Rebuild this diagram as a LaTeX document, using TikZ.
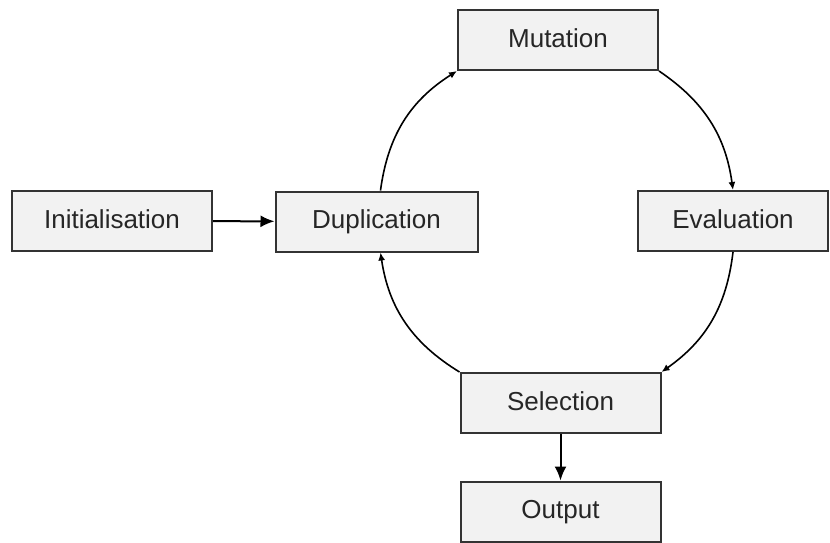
\documentclass[tikz,border=0pt]{standalone}
\usepackage{fontspec}
\setmainfont{Liberation Sans}
\usetikzlibrary{arrows.meta}
\definecolor{boxfill}{HTML}{F2F2F2}
\definecolor{boxline}{HTML}{333333}
\begin{document}
\begin{tikzpicture}[x=0.5pt,y=-0.5pt,
    stage/.style={rectangle,draw=boxline,fill=boxfill,line width=1pt,minimum width=100pt,minimum height=30pt,text height=0.72em,text depth=0pt,font=\fontsize{13}{15}\selectfont,text=black!85},
    loop/.style={-{Latex[length=4pt,width=3.5pt]},line width=0.8pt},
    flow/.style={-{Latex[length=7pt,width=6pt]},line width=1pt}]
    \useasboundingbox (0,0) rectangle (830,542);
    \node[stage] (init) at (112,221) {Initialisation};
    \node[stage,minimum width=101pt] (dup) at (376.5,221.5) {Duplication};
    \node[stage] (mut) at (558,40) {Mutation};
    \node[stage,minimum width=95pt] (eval) at (733,221) {Evaluation};
    \node[stage] (sel) at (560.5,403) {Selection};
    \node[stage] (out) at (560.5,511.5) {Output};
    \draw[flow] (init) -- (dup);
    \draw[loop] ([xshift=2pt]dup.north) to[bend left=25] (mut.south west);
    \draw[loop] (mut.south east) to[bend left=24] (eval.north);
    \draw[loop] (eval.south) to[bend left=24] (sel.north east);
    \draw[loop] (sel.north west) to[bend left=25] ([xshift=2pt]dup.south);
    \draw[flow] (sel) -- (out);
\end{tikzpicture}
\end{document}
